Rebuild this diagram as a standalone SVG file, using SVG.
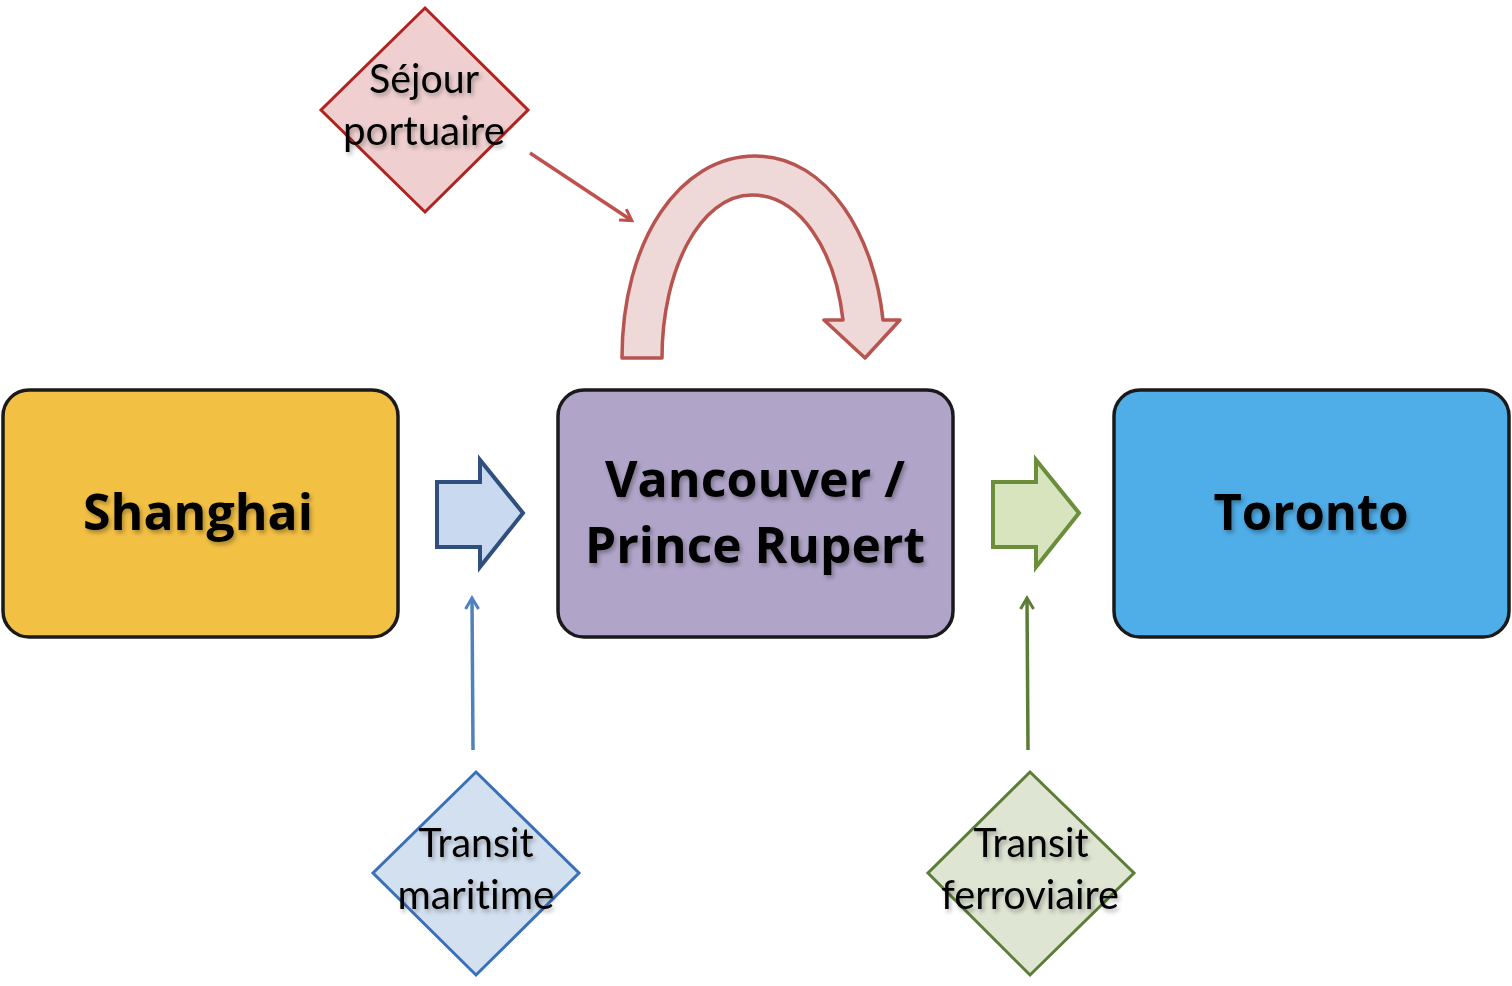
<svg xmlns="http://www.w3.org/2000/svg" width="1512" height="986" viewBox="0 0 1512 986">
<style>
.box{stroke:#1a1a1a;stroke-width:3.5}
.big{font-family:"Open Sans","Noto Sans",sans-serif;font-weight:700;font-size:50px;fill:#000;text-anchor:middle}
.small{font-family:Lato,"Open Sans",sans-serif;font-size:40px;fill:#000;text-anchor:middle;font-variant-ligatures:none}
.thin{fill:none;stroke-width:3.5}
</style>
<defs>
<filter id="sh" x="-10%" y="-20%" width="130%" height="150%">
<feDropShadow dx="2" dy="3" stdDeviation="2" flood-color="#000" flood-opacity="0.3"/>
</filter>
<marker id="mr" markerWidth="16" markerHeight="16" refX="12" refY="8" orient="auto" markerUnits="userSpaceOnUse" viewBox="0 0 16 16"><path d="M2,1.5 L13,8 L2,14.5" fill="none" stroke="#C0504D" stroke-width="3"/></marker>
<marker id="mb" markerWidth="16" markerHeight="16" refX="12" refY="8" orient="auto" markerUnits="userSpaceOnUse" viewBox="0 0 16 16"><path d="M2,1.5 L13,8 L2,14.5" fill="none" stroke="#4F81BD" stroke-width="3"/></marker>
<marker id="mg" markerWidth="16" markerHeight="16" refX="12" refY="8" orient="auto" markerUnits="userSpaceOnUse" viewBox="0 0 16 16"><path d="M2,1.5 L13,8 L2,14.5" fill="none" stroke="#5B7D36" stroke-width="3"/></marker>
</defs>
<rect width="1512" height="986" fill="#fff"/>

<g id="connectors">
<line class="thin" x1="530" y1="153" x2="631" y2="220" stroke="#C0504D" marker-end="url(#mr)"/>
<line class="thin" x1="473" y1="750" x2="472" y2="599" stroke="#4F81BD" marker-end="url(#mb)"/>
<line class="thin" x1="1028" y1="750" x2="1027" y2="599" stroke="#5B7D36" marker-end="url(#mg)"/>
<path id="arrow-blue" d="M437,482 L480,482 L480,460 L523,513 L480,567 L480,547 L437,547 Z" fill="#C9D9EF" stroke="#2F4F7F" stroke-width="4" stroke-linejoin="miter"/>
<path id="arrow-green" d="M993,482 L1036,482 L1036,460 L1079,513 L1036,567 L1036,547 L993,547 Z" fill="#D8E4BE" stroke="#6B8E3A" stroke-width="4"/>
<path id="arrow-loop" d="M622,358 C622,240 680,156 755,156 C830,156 875,240 883,320 L900,320 L865,358 L824,320 L843,320 C835,250 800,195 752,195 C700,195 662,270 662,358 Z" fill="#EED8D8" stroke="#B85450" stroke-width="3.5" stroke-linejoin="round"/>
</g>

<g id="shanghai">
<rect class="box" x="3" y="390" width="395" height="247" rx="26" fill="#F2C043"/>
<text class="big" x="198" y="530" filter="url(#sh)" textLength="230" lengthAdjust="spacingAndGlyphs">Shanghai</text>
</g>

<g id="vancouver">
<rect class="box" x="558" y="390" width="395" height="247" rx="26" fill="#B0A4C8"/>
<text class="big" x="755" y="497" filter="url(#sh)" textLength="300" lengthAdjust="spacingAndGlyphs">Vancouver /</text>
<text class="big" x="755" y="563" filter="url(#sh)" textLength="340" lengthAdjust="spacingAndGlyphs">Prince Rupert</text>
</g>

<g id="toronto">
<rect class="box" x="1114" y="390" width="395" height="247" rx="26" fill="#4FADE8"/>
<text class="big" x="1311" y="530" filter="url(#sh)" textLength="195" lengthAdjust="spacingAndGlyphs">Toronto</text>
</g>

<g id="sejour">
<polygon points="425,8 528,110 425,212 321,110" fill="#EFCFCF" stroke="#B0231F" stroke-width="3"/>
<text class="small" x="424" y="93" filter="url(#sh)" textLength="110" lengthAdjust="spacingAndGlyphs">Séjour</text>
<text class="small" x="424" y="145" filter="url(#sh)" textLength="162" lengthAdjust="spacingAndGlyphs">portuaire</text>
</g>

<g id="maritime">
<polygon points="476,772 579,873 476,975 373,873" fill="#D3E0F0" stroke="#3A70B8" stroke-width="3"/>
<text class="small" x="476" y="857" filter="url(#sh)" textLength="115" lengthAdjust="spacingAndGlyphs">Transit</text>
<text class="small" x="476" y="909" filter="url(#sh)" textLength="157" lengthAdjust="spacingAndGlyphs">maritime</text>
</g>

<g id="ferroviaire">
<polygon points="1030,772 1134,873 1030,975 928,873" fill="#DEE5D3" stroke="#5B7D36" stroke-width="3"/>
<text class="small" x="1031" y="857" filter="url(#sh)" textLength="115" lengthAdjust="spacingAndGlyphs">Transit</text>
<text class="small" x="1030" y="909" filter="url(#sh)" textLength="178" lengthAdjust="spacingAndGlyphs">ferroviaire</text>
</g>
</svg>
